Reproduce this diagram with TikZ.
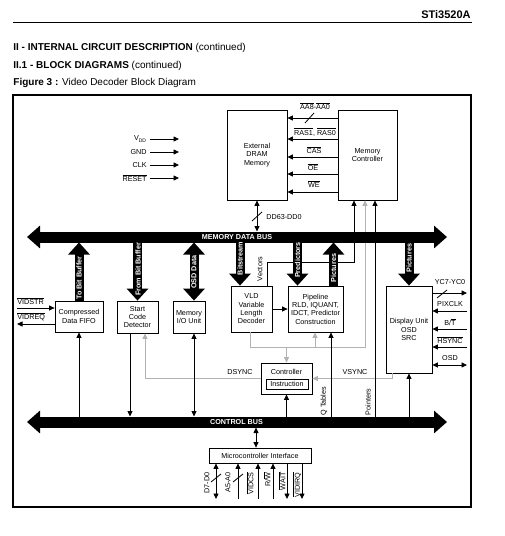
\documentclass[tikz,border=0pt]{standalone}
\usepackage{fontspec}
\setmainfont{Liberation Sans}
\usetikzlibrary{calc, arrows.meta}

% Overlined (active low) signal names.
\newcommand{\lowsig}[1]{\ensuremath{\overline{\mbox{#1}}}}

\tikzset{
    txt/.style = {font = \fontsize{7.2}{8.3}\selectfont, align = center, inner sep = 1pt},
    blk/.style = {txt, draw, line width = 0.8pt, inner sep = 0pt},
    gry/.style = {draw = black!30},
    bus/.style = {line width = 11pt, {Triangle[length = 13pt, width = 22pt]}-{Triangle[length = 13pt, width = 22pt]}},
    bustxt/.style = {text = white, font = \bfseries\fontsize{7.2}{8}\selectfont, inner sep = 0pt},
    fat/.style = {line width = 9pt, -{Triangle[length = 12pt, width = 21pt]}},
    fatboth/.style = {line width = 9pt, {Triangle[length = 12pt, width = 21pt]}-{Triangle[length = 12pt, width = 21pt]}},
    fattxt/.style = {bustxt, rotate = 90},
    vlab/.style = {txt, rotate = 90}
}

\begin{document}
\begin{tikzpicture}[x = 1pt, y = -1pt, line width = 0.8pt, > = {Triangle[length = 5.5pt, width = 5pt]}]

        \useasboundingbox (0, 0) rectangle (504, 536);

        % Page header and titles.
        \node (chip) at (471, 15) [anchor = east, inner sep = 0pt, font = \bfseries\fontsize{11}{13}\selectfont] {STi3520A};
        \draw [line width = 1pt] (13, 22.3) to (471.7, 22.3);
        \node (sec) at (13, 48) [anchor = west, inner sep = 0pt, font = \fontsize{10}{12}\selectfont] {\textbf{II - INTERNAL CIRCUIT DESCRIPTION} (continued)};
        \node (subsec) at (13, 66) [anchor = west, inner sep = 0pt, font = \fontsize{10}{12}\selectfont] {\textbf{II.1 - BLOCK DIAGRAMS} (continued)};
        \node (fig) at (13, 83) [anchor = west, inner sep = 0pt, font = \fontsize{10}{12}\selectfont] {\textbf{Figure 3 :} Video Decoder Block Diagram};

        % Frame round the figure.
        \draw [line width = 2.5pt] (13, 95) rectangle (471, 507);

        % Positions for the buses and the connector columns.
        \coordinate (mdbL) at (27, 237);
        \coordinate (mdbR) at (447, 237);
        \coordinate (mdbtop) at (0, 231.5);
        \coordinate (mdbbot) at (0, 242.5);
        \coordinate (cbL) at (27, 422);
        \coordinate (cbR) at (447, 422);
        \coordinate (cbtop) at (0, 416.5);
        \coordinate (cbbot) at (0, 427.5);
        \coordinate (bsX) at (240, 0);
        \coordinate (predX) at (297.5, 0);
        \coordinate (picX) at (333.5, 0);
        \coordinate (vecX) at (267, 0);
        \coordinate (vecturn) at (354, 262);
        \coordinate (syncturn) at (365, 347);
        \coordinate (ptrX) at (375, 0);
        \coordinate (qtabX) at (331, 0);
        \coordinate (vldgX) at (250, 0);
        \coordinate (pipegX) at (315, 0);
        \coordinate (dsX) at (145, 0);
        \coordinate (vsX) at (392, 0);
        \coordinate (scdX) at (130, 0);
        \coordinate (mioX) at (194, 0);
        \coordinate (mciX) at (256, 0);
        \coordinate (lft) at (17, 0);
        \coordinate (dout) at (467, 0);

        % The blocks.
        \node (dram) at (257, 155) [blk, minimum width = 60pt, minimum height = 90pt] {External\\DRAM\\Memory};
        \node (memctl) at (367.5, 155) [blk, minimum width = 59pt, minimum height = 90pt] {Memory\\Controller};
        \node (fifo) at (79, 316.5) [blk, minimum width = 48pt, minimum height = 31pt] {Compressed\\Data FIFO};
        \node (scd) at (137.5, 317) [blk, minimum width = 41pt, minimum height = 32pt] {Start\\Code\\Detector};
        \node (mio) at (189, 317) [blk, minimum width = 32pt, minimum height = 32pt] {Memory\\I/O Unit};
        \node (vld) at (251.5, 309) [blk, minimum width = 41pt, minimum height = 46pt] {VLD\\Variable\\Length\\Decoder};
        \node (pipe) at (315.5, 309) [blk, minimum width = 55pt, minimum height = 46pt] {Pipeline\\RLD, IQUANT,\\IDCT, Predictor\\Construction};
        \node (disp) at (409, 329.5) [blk, minimum width = 46pt, minimum height = 87pt] {Display Unit\\OSD\\SRC};
        \node (ctrl) at (286.5, 378.5) [blk, minimum width = 51pt, minimum height = 31pt] {};
        \node (ctrlname) at (286.5, 371.5) [txt] {Controller};
        \node (instr) at (287, 384) [blk, minimum width = 42pt, minimum height = 10pt] {Instruction};
        \node (mci) at (260, 455.5) [blk, minimum width = 102pt, minimum height = 15pt] {Microcontroller Interface};

        % Supply and clock inputs.
        \foreach \name/\y/\lab in {vdd/139/V\textsubscript{DD}, gnd/152/GND, clk/165/CLK, rst/178/\lowsig{RESET}} {
            \node (\name) at (147, \y) [txt, anchor = east, inner sep = 0pt] {\lab};
            \draw [->] (150, \y) to (179, \y);
        }

        % DRAM control lines from the memory controller.
        \draw [->] (memctl.west |- 0, 118) to (dram.east |- 0, 118);
        \draw [->] (memctl.west |- 0, 139) to (dram.east |- 0, 139);
        \draw [->] (memctl.west |- 0, 157) to (dram.east |- 0, 157);
        \draw [->] (memctl.west |- 0, 174) to (dram.east |- 0, 174);
        \draw [->] (memctl.west |- 0, 192) to (dram.east |- 0, 192);
        \draw (305, 123) to (314, 113);
        \node (aa) at (315, 106) [txt] {\lowsig{AA8}-\lowsig{AA0}};
        \node (ras) at (315, 132) [txt] {\lowsig{RAS1}, \lowsig{RAS0}};
        \node (cas) at (314, 150) [txt] {\lowsig{CAS}};
        \node (oe) at (313, 167) [txt] {\lowsig{OE}};
        \node (we) at (314, 184.5) [txt] {\lowsig{WE}};

        % DRAM data to the memory data bus.
        \draw [<->] (dram.south) to (dram.south |- mdbtop);
        \draw (252, 221) to (262, 212);
        \node (dd) at (265, 217) [txt, anchor = west] {DD63-DD0};

        % Grey sync and status lines.
        \draw [gry, ->] (vld.south -| vldgX) |- (syncturn) to (memctl.south -| syncturn);
        \draw [gry, ->] (pipegX |- syncturn) to (pipe.south -| pipegX);
        \draw [gry, ->] (ctrl.north |- syncturn) to (ctrl.north);
        \draw [gry, ->] (ctrl.west) -| (scd.south -| dsX);
        \draw [gry, ->] (disp.south -| vsX) |- (ctrl.east);
        \node (dsync) at (240, 372) [txt] {DSYNC};
        \node (vsync) at (355, 372) [txt] {VSYNC};

        % Vectors and pointers to the memory controller.
        \draw [->] (vld.north -| vecX) |- (vecturn) to (memctl.south -| vecturn);
        \draw [<-] (memctl.south -| ptrX) to (ptrX |- cbtop);
        \node (vectors) at (260, 269) [vlab] {Vectors};
        \node (pointers) at (368, 402) [vlab] {Pointers};

        % VLD into the pipeline.
        \draw [->] (vld.east) to (pipe.west);

        % Bitstream port of the FIFO.
        \draw [->] (lft |- 0, 308) to (fifo.west |- 0, 308);
        \draw [<-] (lft |- 0, 324) to (fifo.west |- 0, 324);
        \node (vidstr) at (17, 301.5) [txt, anchor = west, inner sep = 0pt] {\lowsig{VIDSTR}};
        \node (vidreq) at (17, 317) [txt, anchor = west, inner sep = 0pt] {\lowsig{VIDREQ}};

        % Links to the control bus.
        \draw [<-] (fifo.south) to (fifo.south |- cbtop);
        \draw [->] (scd.south -| scdX) to (scdX |- cbtop);
        \draw [<->] (mio.south -| mioX) to (mioX |- cbtop);
        \draw [<-] (ctrl.south) to (ctrl.south |- cbtop);
        \draw [<-] (pipe.south -| qtabX) to (qtabX |- cbtop);
        \draw [<-] (disp.south) to (disp.south |- cbtop);
        \draw [<->] (mci.north -| mciX) to (mciX |- cbbot);
        \node (qtab) at (324, 401) [vlab] {Q Tables};

        % Signals on the right of the display unit.
        \draw [->] (disp.east |- 0, 293) to (dout |- 0, 293);
        \draw [<-] (disp.east |- 0, 311) to (dout |- 0, 311);
        \draw [<-] (disp.east |- 0, 329) to (dout |- 0, 329);
        \draw [<-] (disp.east |- 0, 347) to (dout |- 0, 347);
        \draw [<->] (disp.east |- 0, 365) to (dout |- 0, 365);
        \draw (437, 298) to (447, 290);
        \node (yc) at (450, 282) [txt] {YC7-YC0};
        \node (pixclk) at (450, 304) [txt] {PIXCLK};
        \node (bt) at (450, 322.5) [txt] {B/\lowsig{T}};
        \node (hsync) at (450, 340.5) [txt] {\lowsig{HSYNC}};
        \node (osdsig) at (450, 358) [txt] {OSD};

        % Microcontroller pins.
        \foreach \name/\x/\dx/\lab in {d7/216/9/D7-D0, a5/238/10/A5-A0, cs/258/8/\lowsig{VIDCS}, rw/273/6/{R/\lowsig{W}}, wt/287/5/\lowsig{WAIT}, irq/302/5/\lowsig{VIDIRQ}} {
            \coordinate (\name) at (\x, 499);
            \node (l\name) at (\x - \dx, 472) [vlab, anchor = east, inner sep = 0pt] {\lab};
        }
        \draw [<->] (mci.south -| d7) to (d7);
        \draw [<-] (mci.south -| a5) to (a5);
        \draw [<-] (mci.south -| cs) to (cs);
        \draw [<-] (mci.south -| rw) to (rw);
        \draw [->] (mci.south -| wt) to (wt);
        \draw [->] (mci.south -| irq) to (irq);
        \draw (211, 482) to (221, 474);
        \draw (233, 482) to (243, 474);

        % The two buses.
        \draw [bus] (mdbL) to (mdbR);
        \node (mdb) at (237, 237) [bustxt] {MEMORY DATA BUS};
        \draw [bus] (cbL) to (cbR);
        \node (cb) at (236.5, 422) [bustxt] {CONTROL BUS};

        % Wide data paths to and from the memory data bus.
        \draw [fat] (fifo.north) to (fifo.north |- mdbbot);
        \draw [fat] (scd.north |- mdbbot) to (scd.north);
        \draw [fatboth] (mio.north -| mioX) to (mioX |- mdbbot);
        \draw [fat] (bsX |- mdbbot) to (vld.north -| bsX);
        \draw [fat] (predX |- mdbbot) to (pipe.north -| predX);
        \draw [fat] (pipe.north -| picX) to (picX |- mdbbot);
        \draw [fat] (disp.north |- mdbbot) to (disp.north);
        \node (tobb) at (79, 278) [fattxt] {To Bit Buffer};
        \node (frombb) at (138, 269.5) [fattxt] {From Bit Buffer};
        \node (osddata) at (194, 272) [fattxt] {OSD Data};
        \node (bitstr) at (240, 258.5) [fattxt] {Bitstream};
        \node (preds) at (297.5, 260) [fattxt] {Predictors};
        \node (pics) at (333.5, 268) [fattxt] {Pictures};
        \node (dpics) at (409, 258) [fattxt] {Pictures};

\end{tikzpicture}
\end{document}
